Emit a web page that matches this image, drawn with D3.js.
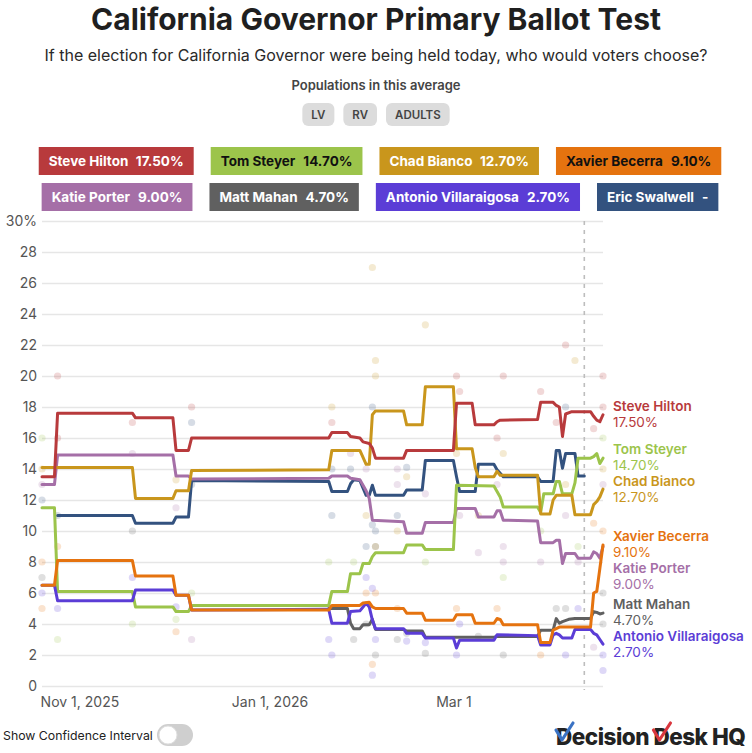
<!DOCTYPE html>
<html><head><meta charset="utf-8">
<script src="https://cdn.jsdelivr.net/npm/d3@7"></script>
<style>
body{margin:0;background:#fff;}
svg{display:block;font-family:Inter,'Noto Sans',sans-serif;}
</style></head><body>
<svg id="chart" width="752" height="753"></svg>
<script>
// ---------- DATA ----------
const candidates = ["Steve Hilton","Tom Steyer","Chad Bianco","Xavier Becerra","Katie Porter","Matt Mahan","Antonio Villaraigosa","Eric Swalwell"];
const candidateColors = ["#b83a3c","#9cc44b","#c9961c","#e5730f","#a56fa7","#606060","#5b3dd6","#33527f"];
const legendTextColors = ["#fff","#111","#fff","#111","#fff","#fff","#fff","#fff"];
const legendValues = ["17.50%","14.70%","12.70%","9.10%","9.00%","4.70%","2.70%","-"];
const populations = ["LV","RV","ADULTS"];
const yTicks = [0,2,4,6,8,10,12,14,16,18,20,22,24,26,28,30];
const xTickDates = ["2025-11-01","2026-01-01","2026-03-01"];
const xTickLabels = ["Nov 1, 2025","Jan 1, 2026","Mar 1"];
const dateDomain = ["2025-10-20","2026-04-18"];
const markerDate = "2026-04-12";

const hiltonAvg = [["2025-10-20",13.5],["2025-10-24",13.5],["2025-10-25",17.6],["2025-11-18",17.6],["2025-11-19",17.3],["2025-12-01",17.3],["2025-12-02",15.2],["2025-12-06",15.2],["2025-12-07",16.0],["2026-01-20",16.0],["2026-01-21",16.35],["2026-01-26",16.35],["2026-01-27",16.1],["2026-01-30",16.0],["2026-01-31",15.75],["2026-02-02",15.65],["2026-02-03",15.35],["2026-02-04",14.7],["2026-02-13",14.7],["2026-02-14",15.2],["2026-03-01",15.2],["2026-03-02",18.25],["2026-03-07",18.25],["2026-03-08",16.85],["2026-03-14",16.85],["2026-03-15",17.05],["2026-03-16",17.15],["2026-03-28",17.2],["2026-03-29",18.3],["2026-04-02",18.3],["2026-04-03",18.1],["2026-04-04",18.0],["2026-04-05",16.1],["2026-04-06",17.55],["2026-04-08",17.7],["2026-04-14",17.7],["2026-04-15",17.4],["2026-04-16",17.15],["2026-04-17",17.05],["2026-04-18",17.5]];
const steyerAvg = [["2025-10-20",11.5],["2025-10-24",11.5],["2025-10-25",6.1],["2025-11-18",6.1],["2025-11-19",5.1],["2025-12-01",5.1],["2025-12-02",4.8],["2025-12-06",4.8],["2025-12-07",5.2],["2026-01-20",5.2],["2026-01-21",6.1],["2026-01-26",6.1],["2026-01-27",7.25],["2026-01-30",7.25],["2026-01-31",7.9],["2026-02-02",7.9],["2026-02-03",8.35],["2026-02-04",8.6],["2026-02-13",8.6],["2026-02-14",9.1],["2026-02-19",9.1],["2026-02-20",8.8],["2026-03-01",8.8],["2026-03-02",12.95],["2026-03-14",12.9],["2026-03-15",12.55],["2026-03-16",12.2],["2026-03-17",11.55],["2026-03-28",11.55],["2026-03-29",11.2],["2026-03-30",12.4],["2026-04-02",12.4],["2026-04-03",13.2],["2026-04-04",13.2],["2026-04-05",12.4],["2026-04-08",12.4],["2026-04-09",13.1],["2026-04-10",14.7],["2026-04-14",14.7],["2026-04-15",14.8],["2026-04-16",15.0],["2026-04-17",14.35],["2026-04-18",14.7]];
const biancoAvg = [["2025-10-20",14.1],["2025-11-18",14.1],["2025-11-19",12.1],["2025-12-01",12.1],["2025-12-02",12.6],["2025-12-06",12.6],["2025-12-07",13.9],["2026-01-20",13.95],["2026-01-21",15.2],["2026-01-30",15.2],["2026-02-01",14.3],["2026-02-02",14.3],["2026-02-03",17.5],["2026-02-04",17.75],["2026-02-13",17.75],["2026-02-14",16.85],["2026-02-19",16.85],["2026-02-20",19.3],["2026-03-01",19.3],["2026-03-02",15.3],["2026-03-07",15.3],["2026-03-08",14.1],["2026-03-09",13.5],["2026-03-14",13.5],["2026-03-15",13.85],["2026-03-16",13.6],["2026-03-28",13.6],["2026-03-29",11.1],["2026-04-01",11.1],["2026-04-02",12.0],["2026-04-03",12.3],["2026-04-08",12.3],["2026-04-09",11.05],["2026-04-14",11.05],["2026-04-15",11.7],["2026-04-16",11.9],["2026-04-17",12.2],["2026-04-18",12.7]];
const becerraAvg = [["2025-10-20",6.5],["2025-10-24",6.5],["2025-10-25",8.1],["2025-11-18",8.1],["2025-11-19",7.1],["2025-12-01",7.1],["2025-12-02",5.85],["2025-12-06",5.85],["2025-12-07",4.9],["2026-01-20",4.9],["2026-01-21",5.2],["2026-01-30",5.2],["2026-01-31",5.35],["2026-02-02",5.4],["2026-02-03",5.1],["2026-02-04",5.0],["2026-02-13",5.0],["2026-02-14",4.7],["2026-02-19",4.7],["2026-02-20",4.25],["2026-03-01",4.25],["2026-03-02",4.6],["2026-03-07",4.6],["2026-03-08",4.05],["2026-03-14",4.05],["2026-03-15",4.35],["2026-03-16",4.3],["2026-03-17",3.95],["2026-03-28",3.95],["2026-03-29",2.8],["2026-04-01",2.8],["2026-04-02",3.6],["2026-04-04",3.8],["2026-04-14",3.8],["2026-04-15",6.0],["2026-04-16",6.1],["2026-04-17",7.6],["2026-04-18",9.1]];
const porterAvg = [["2025-10-20",13.0],["2025-10-24",13.0],["2025-10-25",14.9],["2025-12-01",14.9],["2025-12-02",13.55],["2025-12-06",13.55],["2025-12-07",13.35],["2026-01-20",13.4],["2026-01-21",13.55],["2026-01-26",13.55],["2026-01-27",13.4],["2026-01-30",13.3],["2026-02-01",12.6],["2026-02-02",12.1],["2026-02-03",10.7],["2026-02-13",10.6],["2026-02-14",9.85],["2026-02-19",9.85],["2026-02-20",10.55],["2026-03-01",10.55],["2026-03-02",11.45],["2026-03-08",11.45],["2026-03-09",10.9],["2026-03-14",10.9],["2026-03-15",11.3],["2026-03-16",11.3],["2026-03-17",10.7],["2026-03-28",10.65],["2026-03-29",9.25],["2026-04-02",9.25],["2026-04-03",9.4],["2026-04-04",9.4],["2026-04-05",7.9],["2026-04-06",8.55],["2026-04-09",8.55],["2026-04-10",8.25],["2026-04-14",8.25],["2026-04-15",8.65],["2026-04-16",8.55],["2026-04-17",8.25],["2026-04-18",9.0]];
const mahanAvg = [["2026-01-20",5.0],["2026-01-26",5.0],["2026-01-27",4.05],["2026-01-28",3.7],["2026-01-30",3.7],["2026-01-31",3.95],["2026-02-02",3.95],["2026-02-03",4.3],["2026-02-04",3.65],["2026-02-13",3.65],["2026-02-14",3.55],["2026-02-19",3.55],["2026-02-20",3.15],["2026-03-14",3.15],["2026-03-15",3.2],["2026-03-28",3.2],["2026-03-29",3.6],["2026-04-02",3.6],["2026-04-03",4.35],["2026-04-04",4.05],["2026-04-05",4.15],["2026-04-07",4.3],["2026-04-09",4.35],["2026-04-14",4.35],["2026-04-15",4.8],["2026-04-16",4.75],["2026-04-17",4.65],["2026-04-18",4.7]];
const villaraigosaAvg = [["2025-10-20",6.5],["2025-10-24",6.5],["2025-10-25",5.5],["2025-11-18",5.5],["2025-11-19",6.2],["2025-12-01",6.2],["2025-12-02",5.85],["2025-12-06",5.85],["2025-12-07",4.9],["2026-01-20",4.95],["2026-01-21",4.05],["2026-01-26",4.05],["2026-01-27",4.8],["2026-01-30",4.85],["2026-01-31",5.1],["2026-02-01",5.35],["2026-02-02",5.1],["2026-02-03",4.25],["2026-02-04",3.7],["2026-02-13",3.7],["2026-02-14",3.4],["2026-02-19",3.4],["2026-02-20",3.1],["2026-03-01",3.1],["2026-03-02",2.45],["2026-03-03",2.95],["2026-03-14",2.95],["2026-03-15",3.3],["2026-03-28",3.25],["2026-03-29",2.65],["2026-04-01",2.65],["2026-04-02",3.3],["2026-04-03",3.4],["2026-04-04",3.3],["2026-04-05",3.1],["2026-04-08",3.1],["2026-04-09",3.65],["2026-04-14",3.65],["2026-04-15",3.4],["2026-04-16",3.3],["2026-04-17",3.0],["2026-04-18",2.7]];
const swalwellAvg = [["2025-10-25",11.0],["2025-11-18",11.0],["2025-11-19",10.5],["2025-12-01",10.5],["2025-12-02",10.9],["2025-12-06",10.9],["2025-12-07",13.25],["2026-01-20",13.2],["2026-01-21",12.55],["2026-01-26",12.55],["2026-01-27",13.05],["2026-01-28",13.3],["2026-01-30",13.25],["2026-02-01",12.3],["2026-02-02",12.3],["2026-02-03",12.95],["2026-02-04",12.3],["2026-02-13",12.3],["2026-02-14",12.65],["2026-02-19",12.65],["2026-02-20",14.55],["2026-03-01",14.55],["2026-03-02",13.5],["2026-03-03",12.55],["2026-03-08",12.55],["2026-03-09",14.3],["2026-03-14",14.3],["2026-03-15",13.95],["2026-03-17",13.5],["2026-03-28",13.5],["2026-03-29",13.2],["2026-04-02",13.2],["2026-04-03",15.2],["2026-04-04",15.2],["2026-04-05",14.05],["2026-04-06",15.0],["2026-04-09",15.0],["2026-04-10",13.55],["2026-04-12",13.55]];

const hiltonPolls = [["2025-10-25",20],["2025-10-25",16],["2025-11-18",17],["2025-12-07",18],["2026-01-21",17],["2026-03-02",20],["2026-03-03",19],["2026-03-15",16],["2026-03-17",20],["2026-03-29",19],["2026-04-03",17],["2026-04-06",22],["2026-04-15",16.6],["2026-04-18",20],["2026-04-18",18]];
const steyerPolls = [["2025-10-20",16],["2025-10-25",3],["2025-11-18",4],["2025-12-02",4.3],["2025-12-07",6],["2026-01-20",8],["2026-01-28",8],["2026-02-20",8],["2026-03-17",7],["2026-03-29",10],["2026-04-10",9],["2026-04-18",16]];
const biancoPolls = [["2025-10-20",14],["2025-12-02",13.3],["2026-01-21",18],["2026-02-01",11],["2026-02-03",27],["2026-02-04",21],["2026-02-04",20],["2026-02-04",9],["2026-02-11",10],["2026-02-14",13.5],["2026-02-20",23.3],["2026-03-02",15],["2026-03-09",11],["2026-03-17",15],["2026-04-06",13],["2026-04-09",21],["2026-04-18",14]];
const becerraPolls = [["2025-10-20",8],["2025-10-20",5],["2025-10-25",9],["2025-12-02",3.5],["2026-02-01",6],["2026-02-04",6],["2026-02-03",1.4],["2026-02-11",5],["2026-03-02",5],["2026-03-15",5],["2026-03-29",2],["2026-04-15",10.5],["2026-04-18",10]];
const porterPolls = [["2025-10-20",13],["2025-11-18",15],["2025-12-02",11.5],["2025-12-07",3],["2026-01-27",15],["2026-02-01",14],["2026-02-11",14],["2026-02-11",13],["2026-02-20",12.4],["2026-03-03",11],["2026-03-09",8.6],["2026-03-15",13],["2026-03-17",8],["2026-03-17",9],["2026-03-29",8],["2026-04-06",11],["2026-04-10",8],["2026-04-15",2.5],["2026-04-18",13]];
const mahanPolls = [["2025-10-20",7],["2025-11-18",10],["2026-01-28",3],["2026-02-01",4],["2026-02-04",9],["2026-02-04",2],["2026-02-11",3],["2026-02-14",3.4],["2026-02-20",2.1],["2026-03-09",3.2],["2026-03-17",2],["2026-04-03",5],["2026-04-06",5],["2026-04-18",6],["2026-04-18",4]];
const villaraigosaPolls = [["2025-10-20",6],["2025-10-25",5],["2025-11-18",7],["2025-12-02",5.1],["2026-01-20",3],["2026-01-21",2],["2026-02-01",7],["2026-02-03",6.3],["2026-02-04",3],["2026-02-03",0.7],["2026-02-14",2.9],["2026-02-20",2.8],["2026-03-03",4],["2026-03-02",2],["2026-04-06",2],["2026-04-10",5],["2026-04-18",2],["2026-04-18",1]];
const swalwellPolls = [["2025-10-20",12],["2025-10-25",11],["2025-12-07",17],["2025-12-07",13],["2026-01-21",14],["2026-01-21",11],["2026-01-27",14],["2026-02-01",9],["2026-02-03",18],["2026-02-03",10.4],["2026-02-04",10],["2026-02-11",11],["2026-02-14",14.1],["2026-04-06",18]];

const averages = [hiltonAvg, steyerAvg, biancoAvg, becerraAvg, porterAvg, mahanAvg, villaraigosaAvg, swalwellAvg];
const polls = [hiltonPolls, steyerPolls, biancoPolls, becerraPolls, porterPolls, mahanPolls, villaraigosaPolls, swalwellPolls];
const drawOrder = [7,4,1,2,5,6,3,0];
const labelled = [0,1,2,3,4,5,6];

// ---------- CHART ----------
const parse = d3.timeParse("%Y-%m-%d");
const svg = d3.select("#chart");
const FF = "Inter,'Noto Sans',sans-serif";

// header
svg.append("text").attr("x",376).attr("y",30).attr("text-anchor","middle")
  .attr("font-size",30).attr("font-weight",700).attr("fill","#1f1f1f")
  .text("California Governor Primary Ballot Test");
svg.append("text").attr("x",376).attr("y",61).attr("text-anchor","middle")
  .attr("font-size",16).attr("fill","#2a2a2a")
  .text("If the election for California Governor were being held today, who would voters choose?");
svg.append("text").attr("x",376).attr("y",90).attr("text-anchor","middle")
  .attr("font-size",13).attr("font-weight",600).attr("fill","#444")
  .text("Populations in this average");

// population buttons
const popG = svg.append("g");
const popItems = popG.selectAll("g").data(populations).join("g");
popItems.append("text").attr("font-size",11.5).attr("font-weight",600).attr("fill","#444").attr("text-anchor","middle").text(d=>d);
const popW = [];
popItems.each(function(){ popW.push(d3.select(this).select("text").node().getComputedTextLength()+18); });
const popGap = 9;
let px = 376 - (d3.sum(popW)+popGap*(popW.length-1))/2;
popItems.each(function(d,i){
  const g = d3.select(this);
  g.insert("rect","text").attr("x",px).attr("y",103).attr("width",popW[i]).attr("height",23).attr("rx",6).attr("fill","#dcdcdc");
  g.select("text").attr("x",px+popW[i]/2).attr("y",119);
  px += popW[i]+popGap;
});

// legend
const legG = svg.append("g");
const items = legG.selectAll("g").data(candidates).join("g");
const lt = items.append("text").attr("font-size",13.5).attr("font-weight",700).attr("fill",(d,i)=>legendTextColors[i]);
lt.append("tspan").text(d=>d);
lt.append("tspan").attr("dx",8).text((d,i)=>legendValues[i]);
const legW = [];
items.each(function(){ legW.push(d3.select(this).select("text").node().getComputedTextLength()+8+20); });
const legGap = 17, perRow = 4, rowY = [147,183], rowH = 28;
for (let r=0;r<2;r++){
  const idx = d3.range(r*perRow, r*perRow+perRow);
  const tot = d3.sum(idx, i=>legW[i]) + legGap*(perRow-1);
  let lx = 380 - tot/2;
  idx.forEach(i=>{
    const g = d3.select(items.nodes()[i]);
    g.insert("rect","text").attr("x",lx).attr("y",rowY[r]).attr("width",legW[i]).attr("height",rowH).attr("fill",candidateColors[i]);
    g.select("text").attr("x",lx+10).attr("y",rowY[r]+19);
    lx += legW[i]+legGap;
  });
}

// scales
const x = d3.scaleTime().domain(dateDomain.map(parse)).range([42,603]);
const y = d3.scaleLinear().domain([0,30]).range([686,221]);

// grid + y axis
const yAxis = svg.append("g").attr("transform","translate(42,0)")
  .call(d3.axisLeft(y).tickValues(yTicks).tickSize(-561).tickPadding(5).tickFormat(d=>d===30?"30%":d));
yAxis.select(".domain").remove();
yAxis.selectAll(".tick line").attr("stroke","#e6e6e6").attr("stroke-width",1.6);
yAxis.selectAll(".tick text").attr("font-size",14).attr("fill","#555").attr("font-family",FF);

// x axis
const xAxis = svg.append("g").attr("transform","translate(0,686)")
  .call(d3.axisBottom(x).tickValues(xTickDates.map(parse)).tickSize(0).tickPadding(11).tickFormat((d,i)=>xTickLabels[i]));
xAxis.select(".domain").remove();
xAxis.selectAll(".tick text").attr("font-size",14).attr("fill","#555").attr("font-family",FF);

// marker line
svg.append("line").attr("x1",x(parse(markerDate))).attr("x2",x(parse(markerDate)))
  .attr("y1",221).attr("y2",690).attr("stroke","#bdbdbd").attr("stroke-width",1.6).attr("stroke-dasharray","4,5");

// poll dots
const dotsG = svg.append("g");
polls.forEach((arr,ci)=>{
  dotsG.selectAll(null).data(arr).join("circle")
    .attr("cx",d=>x(parse(d[0]))).attr("cy",d=>y(d[1])).attr("r",3.6)
    .attr("fill",candidateColors[ci]).attr("fill-opacity",0.2);
});

// lines
const line = d3.line().x(d=>x(parse(d[0]))).y(d=>y(d[1]));
const linesG = svg.append("g");
drawOrder.forEach(ci=>{
  linesG.append("path").datum(averages[ci]).attr("d",line)
    .attr("fill","none").attr("stroke",candidateColors[ci]).attr("stroke-width",3)
    .attr("stroke-linejoin","round").attr("stroke-linecap","round");
});

// end labels with collision avoidance
const labs = labelled.map(ci=>({ci, v: averages[ci][averages[ci].length-1][1]})).sort((a,b)=>b.v-a.v);
let prev = -Infinity;
labs.forEach(l=>{ l.ly = Math.max(y(l.v), prev+32); prev = l.ly; });
const labG = svg.append("g");
labs.forEach(l=>{
  const t = labG.append("text").attr("x",613).attr("font-size",13.5).attr("fill",candidateColors[l.ci]);
  t.append("tspan").attr("x",613).attr("y",l.ly-4).attr("font-weight",600).text(candidates[l.ci]);
  t.append("tspan").attr("x",613).attr("y",l.ly+12).text(legendValues[l.ci]);
});

// footer
svg.append("text").attr("x",3).attr("y",740).attr("font-size",12.3).attr("fill","#222").text("Show Confidence Interval");
svg.append("rect").attr("x",157).attr("y",724).attr("width",36).attr("height",22).attr("rx",11).attr("fill","#cfcfcf");
svg.append("circle").attr("cx",168).attr("cy",735).attr("r",9).attr("fill","#fff").attr("stroke","#e0e0e0");

const logo = svg.append("text").attr("x",556).attr("y",745).attr("font-size",22.5).attr("font-weight",800)
  .attr("fill","#222").attr("letter-spacing","-0.5").text("Decision Desk HQ");
const ln = logo.node();
const d2 = ln.getStartPositionOfChar(9).x;
function check(x0,col){
  svg.append("path").attr("d",`M${x0},${730} L${x0+6},${740} L${x0+17},${723}`)
    .attr("fill","none").attr("stroke",col).attr("stroke-width",3.2).attr("stroke-linecap","round").attr("stroke-linejoin","round");
}
check(556,"#3b73c4");
check(d2,"#d9363e");
</script>
</body></html>
